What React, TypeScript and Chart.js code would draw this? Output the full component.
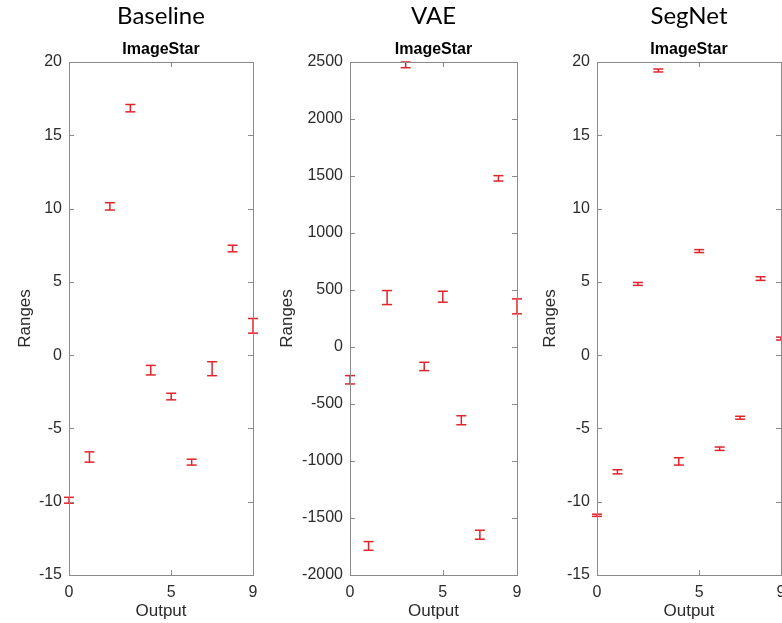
import React, { useEffect, useRef } from "react";
import { Chart, registerables } from "chart.js";

Chart.register(...registerables);

// ---------- data ----------
const outputs = [0, 1, 2, 3, 4, 5, 6, 7, 8, 9];
const xTickValues = [0, 5, 9];
const panelNames = ["Baseline", "VAE", "SegNet"];
const subTitle = "ImageStar";
const xTitle = "Output";
const yTitle = "Ranges";

const baselineLower = [-10.1, -7.3, 9.9, 16.6, -1.35, -3.05, -7.5, -1.4, 7.05, 1.5];
const baselineUpper = [-9.7, -6.6, 10.4, 17.1, -0.7, -2.6, -7.1, -0.45, 7.5, 2.5];

const vaeLower = [-324, -1783, 372, 2450, -207, 393, -682, -1686, 1456, 291];
const vaeUpper = [-251, -1707, 495, 2500, -134, 489, -603, -1607, 1503, 422];

const segnetLower = [-11.0, -8.1, 4.76, 19.32, -7.5, 7.0, -6.5, -4.37, 5.1, 1.03];
const segnetUpper = [-10.85, -7.82, 4.96, 19.52, -7.0, 7.2, -6.27, -4.17, 5.35, 1.23];

const baselineYRange = { min: -15, max: 20, step: 5 };
const vaeYRange = { min: -2000, max: 2500, step: 500 };
const segnetYRange = { min: -15, max: 20, step: 5 };

// ---------- styles ----------
const RED = "#e0242c";
const AXIS = "#8a8a8a";
const TICK_TEXT = "#2b2b2b";
const SANS = "'Liberation Sans', Arial, Helvetica, sans-serif";

const boxPlugin = {
  id: "boxTicks",
  afterDraw(chart: any) {
    const { ctx, chartArea: a, scales } = chart;
    ctx.save();
    ctx.strokeStyle = AXIS;
    ctx.lineWidth = 1;
    ctx.strokeRect(a.left + 0.5, a.top + 0.5, a.right - a.left, a.bottom - a.top);
    const len = 5;
    ctx.beginPath();
    scales.y.ticks.forEach((t: any) => {
      const y = Math.round(scales.y.getPixelForValue(t.value)) + 0.5;
      ctx.moveTo(a.left, y);
      ctx.lineTo(a.left + len, y);
      ctx.moveTo(a.right, y);
      ctx.lineTo(a.right - len, y);
    });
    scales.x.ticks.forEach((t: any) => {
      const x = Math.round(scales.x.getPixelForValue(t.value)) + 0.5;
      ctx.moveTo(x, a.top);
      ctx.lineTo(x, a.top + len);
      ctx.moveTo(x, a.bottom);
      ctx.lineTo(x, a.bottom - len);
    });
    ctx.stroke();
    ctx.restore();
  },
};

type PanelProps = {
  name: string;
  lower: number[];
  upper: number[];
  yRange: { min: number; max: number; step: number };
  left: number;
  width: number;
  axisWidth: number;
  padRight: number;
  yTitlePad: number;
};

function Panel(p: PanelProps) {
  const ref = useRef<HTMLCanvasElement | null>(null);
  useEffect(() => {
    if (!ref.current) return;
    const stems: any[] = [];
    outputs.forEach((x, i) => {
      stems.push({ x, y: p.lower[i] });
      stems.push({ x, y: p.upper[i] });
      stems.push({ x, y: NaN });
    });
    const chart = new Chart(ref.current, {
      type: "scatter",
      data: {
        datasets: [
          {
            data: stems,
            showLine: true,
            spanGaps: false,
            borderColor: RED,
            borderWidth: 1.5,
            pointRadius: 0,
            clip: false,
          } as any,
          {
            data: outputs.map((x, i) => ({ x, y: p.lower[i] })),
            pointStyle: "line",
            pointRadius: 5,
            borderColor: RED,
            backgroundColor: RED,
            borderWidth: 1.5,
            clip: false,
          } as any,
          {
            data: outputs.map((x, i) => ({ x, y: p.upper[i] })),
            pointStyle: "line",
            pointRadius: 5,
            borderColor: RED,
            backgroundColor: RED,
            borderWidth: 1.5,
            clip: false,
          } as any,
        ],
      },
      options: {
        animation: false,
        responsive: false,
        events: [],
        layout: { padding: { left: 0, right: p.padRight, top: 0, bottom: 0 } },
        plugins: {
          legend: { display: false },
          tooltip: { enabled: false },
          title: {
            display: true,
            text: p.name,
            fullSize: false,
            color: "#000",
            font: { family: "Lato, 'Open Sans', sans-serif", size: 24, weight: "normal" },
            padding: { top: 2, bottom: 0 },
          },
          subtitle: {
            display: true,
            text: subTitle,
            fullSize: false,
            color: "#000",
            font: { family: SANS, size: 16, weight: "bold" },
            padding: { top: 9.6, bottom: 2.4 },
          },
        },
        scales: {
          x: {
            type: "linear",
            min: 0,
            max: 9,
            afterBuildTicks: (s: any) => {
              s.ticks = xTickValues.map((v) => ({ value: v }));
            },
            afterFit: (s: any) => {
              s.height = 48;
            },
            grid: { display: false, drawTicks: false },
            border: { display: false },
            ticks: {
              color: TICK_TEXT,
              font: { family: SANS, size: 16 },
              padding: 8,
              maxRotation: 0,
              callback: (v: any) => String(v),
            },
            title: {
              display: true,
              text: xTitle,
              color: TICK_TEXT,
              font: { family: SANS, size: 17 },
              padding: { top: 0, bottom: 1 },
            },
          },
          y: {
            type: "linear",
            min: p.yRange.min,
            max: p.yRange.max,
            afterFit: (s: any) => {
              s.width = p.axisWidth;
            },
            grid: { display: false, drawTicks: false },
            border: { display: false },
            ticks: {
              stepSize: p.yRange.step,
              color: TICK_TEXT,
              font: { family: SANS, size: 16 },
              padding: 7,
              callback: (v: any) => String(v),
            },
            title: {
              display: true,
              text: yTitle,
              color: TICK_TEXT,
              font: { family: SANS, size: 17 },
              padding: { top: p.yTitlePad, bottom: 0 },
            },
          },
        },
      },
      plugins: [boxPlugin],
    });
    return () => chart.destroy();
  }, []);
  return (
    <canvas
      ref={ref}
      width={p.width}
      height={623}
      style={{ position: "absolute", left: p.left, top: 0, width: p.width, height: 623 }}
    />
  );
}

export default function App() {
  return (
    <div
      style={{
        position: "absolute",
        left: 0,
        top: 0,
        width: 782,
        height: 623,
        overflow: "hidden",
        background: "#fff",
      }}
    >
      <Panel
        name={panelNames[0]}
        lower={baselineLower}
        upper={baselineUpper}
        yRange={baselineYRange}
        left={0}
        width={280}
        axisWidth={69}
        padRight={27}
        yTitlePad={14.8}
      />
      <Panel
        name={panelNames[1]}
        lower={vaeLower}
        upper={vaeUpper}
        yRange={vaeYRange}
        left={270}
        width={280}
        axisWidth={80}
        padRight={33}
        yTitlePad={6.8}
      />
      <Panel
        name={panelNames[2]}
        lower={segnetLower}
        upper={segnetUpper}
        yRange={segnetYRange}
        left={530}
        width={290}
        axisWidth={67}
        padRight={39}
        yTitlePad={10.3}
      />
    </div>
  );
}
